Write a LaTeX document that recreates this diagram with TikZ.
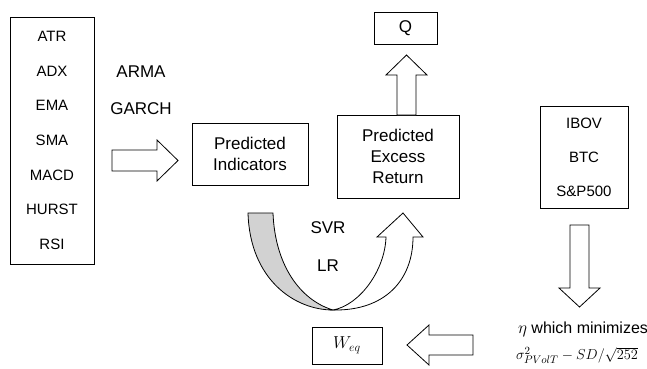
\documentclass[tikz,border=0pt]{standalone}
\usepackage{fontspec}
\setmainfont{Liberation Sans}
\usetikzlibrary{positioning}

\tikzset{
  box/.style={draw, line width=0.8pt, align=center, inner sep=0pt},
  blockarr/.style={draw, line width=0.8pt, fill=white, line join=miter},
  lbl/.style={font=\fontsize{17}{21}\selectfont, align=center},
  item/.style={font=\fontsize{15}{34.6}\selectfont, align=center},
}

\begin{document}
\begin{tikzpicture}[x=1pt,y=-1pt]
    \useasboundingbox (0,0) rectangle (647,368);

    % boxes
    \node[box, item, minimum width=84, minimum height=247] (ind) at (52,140.5) {ATR\\ADX\\EMA\\SMA\\MACD\\HURST\\RSI};
    \node[box, lbl, minimum width=116, minimum height=62] (pind) at (250,154) {Predicted\\Indicators};
    \node[box, lbl, minimum width=122, minimum height=83] (pret) at (398,156.5) {Predicted\\Excess\\Return};
    \node[box, lbl, minimum width=63, minimum height=32] (q) at (405.5,28) {Q};
    \node[box, item, font=\fontsize{15}{34}\selectfont, minimum width=88, minimum height=102] (idx) at (584,157) {IBOV\\BTC\\S\&P500};
    \node[box, lbl, minimum width=70, minimum height=37] (weq) at (347,345.5) {$W_{eq}$};

    % labels
    \node[lbl] (arma) at (141,72) {ARMA};
    \node[lbl] (garch) at (141,109) {GARCH};
    \node[lbl] (svr) at (328,228) {SVR};
    \node[lbl] (lr) at (328,266) {LR};
    \node[font=\fontsize{16}{19}\selectfont, inner sep=0pt] (eta) at (583,329) {$\eta$ which minimizes};
    \node[font=\fontsize{15}{17}\selectfont, inner sep=0pt] (crit) at (577,355.5) {$\sigma^2_{PVolT}-SD/\sqrt{252}$};

    % block arrows
    \draw[blockarr] (112,150) -- (157,150) -- (157,140) -- (178,160.5) -- (157,181) -- (157,171) -- (112,171) -- cycle;
    \draw[blockarr] (397,115) -- (397,75) -- (386,75) -- (406.5,55) -- (427,75) -- (416,75) -- (416,115) -- cycle;
    \draw[blockarr] (570,225) -- (570,288) -- (559,288) -- (579.5,307) -- (600,288) -- (589,288) -- (589,225) -- cycle;
    \draw[blockarr] (473,335) -- (429,335) -- (429,325) -- (407,345) -- (429,365) -- (429,355) -- (473,355) -- cycle;

    % u-turn arrow
    \filldraw[fill=gray!35, line width=0.8pt] (248,213) -- (273,213) .. controls (275,265) and (300,300) .. (333,310)
        .. controls (295,310) and (250,280) .. (248,213) -- cycle;
    \draw[blockarr] (333,310) .. controls (385,311) and (413,280) .. (413,237) -- (423,237) -- (403,213) -- (377,237) -- (386,237)
        .. controls (385,270) and (360,305) .. (333,310) -- cycle;
\end{tikzpicture}
\end{document}
